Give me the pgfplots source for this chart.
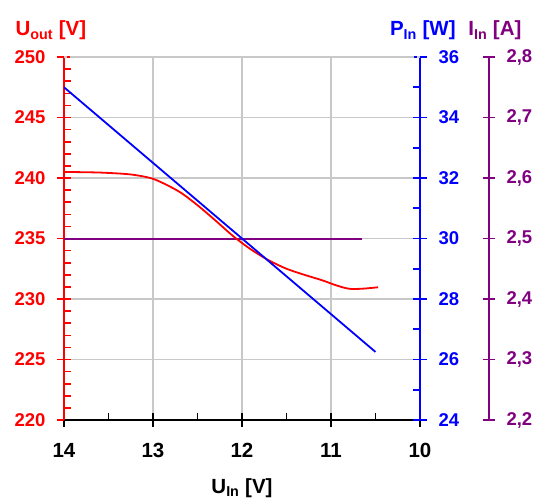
\documentclass[border=0pt]{standalone}
\usepackage{fontspec}
\setmainfont{Liberation Sans}
\usepackage{pgfplots}
\pgfplotsset{compat=1.18}
\definecolor{cred}{HTML}{FF0000}
\definecolor{cblue}{HTML}{0000FF}
\definecolor{cpurple}{HTML}{800080}
\definecolor{cgrid}{HTML}{C8C8C8}
\newcommand{\lbl}{\fontsize{20.5bp}{22bp}\selectfont\bfseries}
\newcommand{\ylbl}{\fontsize{18.5bp}{20bp}\selectfont\bfseries}

\pgfplotsset{
  base/.style={scale only axis, width=356bp, height=363bp,
    xmin=10, xmax=14, x dir=reverse,
    tick align=center, major tick length=14bp, minor tick length=7bp,
    every tick/.append style={line width=1.6bp},
    ticklabel style={font=\ylbl},
    /pgf/number format/assume math mode=true,
    axis line style={-, line width=2bp}},
}

\begin{document}
\begin{tikzpicture}
\path[use as bounding box] (-64bp,-79bp) rectangle (475bp,420bp);

% grid, red y axis, x axis
\begin{axis}[base,
  axis x line*=bottom, axis y line*=left,
  x axis line style={black}, y axis line style={cred},
  ymin=220, ymax=250, ytick={220,225,230,235,240,245,250},
  minor y tick num=4, xtick={10,11,12,13,14},
  extra x ticks={10.5,11.5,12.5,13.5}, extra x tick labels={},
  extra x tick style={grid=none, major tick length=7bp, tick style={yshift=3.5bp}},
  grid=major, grid style={cgrid, line width=1.4bp},
  xtick style={black}, ytick style={cred},
  minor tick style={xshift=3.5bp},
  xticklabel style={black, font=\lbl, yshift=-13bp},
  yticklabel style={cred, xshift=-8bp},
  xlabel={U\textsubscript{In} [V]},
  xlabel style={font=\lbl, black, at={(axis description cs:0.5,-0.203)}, anchor=base},
  ylabel={U\textsubscript{out} [V]},
  ylabel style={font=\lbl, cred, rotate=-90, at={(axis description cs:-0.146,1.058)}, anchor=base west},
]
\end{axis}

% I_in series
\begin{axis}[base, hide axis, ymin=2.2, ymax=2.8]
\addplot[cpurple, line width=2bp] coordinates {(14,2.5) (10.65,2.5)};
\end{axis}

% U_out series
\begin{axis}[base, hide axis, ymin=220, ymax=250]
\addplot[cred, line width=1.8bp, smooth] coordinates {
  (14,240.5) (13.6,240.45) (13.26,240.3) (13.03,240.0) (12.88,239.55)
  (12.69,238.8) (12.5,237.75) (12.3,236.5) (12.1,235.2) (11.9,234.1)
  (11.7,233.2) (11.5,232.5) (11.3,232.0) (11.1,231.55) (10.95,231.15)
  (10.8,230.85) (10.65,230.85) (10.47,230.97)};
\end{axis}

% P_in axis and series
\begin{axis}[base, axis x line=none, axis y line*=right,
  y axis line style={cblue},
  ymin=24, ymax=36, ytick={24,26,...,36}, minor y tick num=1,
  ytick style={cblue}, minor tick style={xshift=-3.5bp},
  yticklabel style={cblue, xshift=8bp},
  ylabel={P\textsubscript{In} [W]},
  ylabel style={font=\lbl, cblue, rotate=-90, at={(axis description cs:1.11,1.058)}, anchor=base east},
]
\addplot[cblue, line width=1.8bp] coordinates {(14,35.0) (10.5,26.25)};
\end{axis}

% I_in axis
\begin{axis}[base, at={(69bp,0)}, axis x line=none, axis y line*=right,
  y axis line style={cpurple},
  ymin=2.2, ymax=2.8, ytick={2.2,2.3,2.4,2.5,2.6,2.7,2.8},
  major tick length=12bp,
  ytick style={cpurple},
  yticklabel style={cpurple, xshift=8bp,
    /pgf/number format/.cd, fixed, fixed zerofill, precision=1, use comma},
  ylabel={I\textsubscript{In} [A]},
  ylabel style={font=\lbl, cpurple, rotate=-90, at={(axis description cs:1.101,1.058)}, anchor=base east},
]
\end{axis}

% dashed top border of the plot area
\draw[cgrid, line width=1.4bp, dashed] (0,363bp) -- (356bp,363bp);
\end{tikzpicture}
\end{document}
